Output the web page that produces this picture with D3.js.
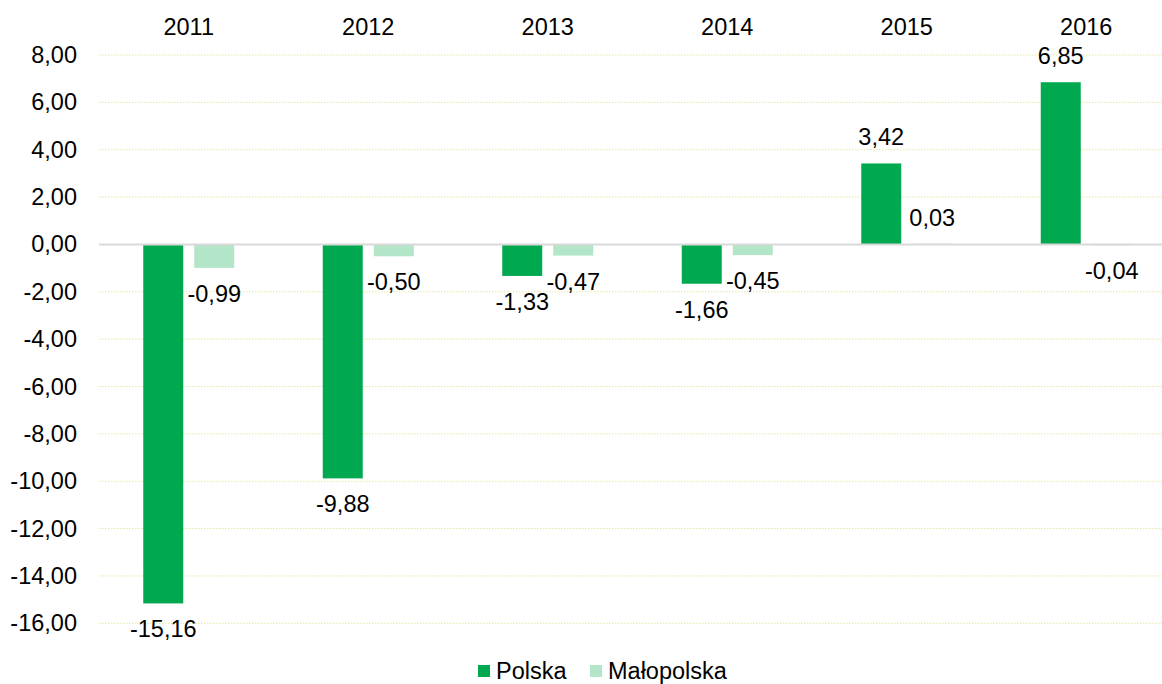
<!DOCTYPE html>
<html lang="pl">
<head>
    <meta charset="utf-8">
    <title>Polska / Małopolska</title>
    <script src="https://d3js.org/d3.v7.min.js"></script>
    <style>
        body { margin: 0; background: #fff; }
        text { font-family: "Liberation Sans", Arial, sans-serif; fill: #000; }
    </style>
</head>
<body>
<div id="chart"></div>
<script>
    // Data
    const years = ["2011", "2012", "2013", "2014", "2015", "2016"];
    const seriesNames = ["Polska", "Małopolska"];
    const polska = [-15.16, -9.88, -1.33, -1.66, 3.42, 6.85];
    const malopolska = [-0.99, -0.50, -0.47, -0.45, 0.03, -0.04];
    const yTicks = [8, 6, 4, 2, 0, -2, -4, -6, -8, -10, -12, -14, -16];

    const colors = {"Polska": "#00a84f", "Małopolska": "#b3e5c8"};

    const width = 1162, height = 684;
    const fontSize = 23.5;
    const fmt = v => d3.format(".2f")(v).replace(".", ",").replace("−", "-");

    const rows = years.map((yr, i) => ({
        year: yr,
        values: [
            {key: "Polska", value: polska[i]},
            {key: "Małopolska", value: malopolska[i]}
        ]
    }));

    const svg = d3.select("#chart")
        .append("svg")
        .attr("width", width)
        .attr("height", height);

    // Scales
    const x0 = d3.scaleBand()
        .domain(years)
        .range([99, 1176])
        .paddingInner(0.493)
        .paddingOuter(0.2465);

    const x1 = d3.scaleBand()
        .domain(seriesNames)
        .range([0, x0.bandwidth()])
        .paddingInner(0.216);

    const y = d3.scaleLinear()
        .domain([-16, 8])
        .range([623.3, 55]);

    // Gridlines
    svg.append("g")
        .selectAll("line")
        .data(yTicks.filter(t => t !== 0))
        .join("line")
        .attr("x1", 99)
        .attr("x2", width)
        .attr("y1", d => y(d))
        .attr("y2", d => y(d))
        .attr("stroke", "#e3e8a6")
        .attr("stroke-width", 1)
        .attr("stroke-dasharray", "1.5,1.5");

    // Y axis labels
    const yAxis = d3.axisLeft(y)
        .tickValues(yTicks)
        .tickFormat(fmt)
        .tickSize(0)
        .tickPadding(0);

    svg.append("g")
        .attr("transform", "translate(77,0)")
        .call(yAxis)
        .call(g => g.select(".domain").remove())
        .call(g => g.selectAll("text")
            .attr("font-size", fontSize)
            .attr("font-family", "Liberation Sans, Arial, sans-serif")
            .attr("fill", "#000"));

    // Category labels on top
    svg.append("g")
        .selectAll("text")
        .data(years)
        .join("text")
        .attr("x", d => x0(d) + x0.bandwidth() / 2)
        .attr("y", 35)
        .attr("text-anchor", "middle")
        .attr("font-size", fontSize)
        .text(d => d);

    // Bars
    const groups = svg.append("g")
        .selectAll("g")
        .data(rows)
        .join("g")
        .attr("transform", d => `translate(${x0(d.year)},0)`);

    groups.selectAll("rect")
        .data(d => d.values)
        .join("rect")
        .attr("x", d => x1(d.key))
        .attr("width", x1.bandwidth())
        .attr("y", d => y(Math.max(0, d.value)))
        .attr("height", d => Math.abs(y(d.value) - y(0)))
        .attr("fill", d => colors[d.key]);

    // Value labels
    groups.selectAll("text")
        .data(d => d.values)
        .join("text")
        .attr("x", d => x1(d.key) + x1.bandwidth() / 2)
        .attr("y", d => d.value >= 0 ? y(d.value) - 18 : y(d.value) + 34)
        .attr("text-anchor", "middle")
        .attr("font-size", fontSize)
        .text(d => fmt(d.value));

    // Zero line
    svg.append("line")
        .attr("x1", 99)
        .attr("x2", width)
        .attr("y1", y(0))
        .attr("y2", y(0))
        .attr("stroke", "#d9d9d9")
        .attr("stroke-width", 2);

    // Legend
    const legend = svg.append("g")
        .attr("transform", "translate(478,665)");

    const legendX = [0, 112];
    const items = legend.selectAll("g")
        .data(seriesNames)
        .join("g")
        .attr("transform", (d, i) => `translate(${legendX[i]},0)`);

    items.append("rect")
        .attr("width", 12)
        .attr("height", 12)
        .attr("fill", d => colors[d]);

    items.append("text")
        .attr("x", 18)
        .attr("y", 14)
        .attr("font-size", fontSize)
        .text(d => d);
</script>
</body>
</html>
